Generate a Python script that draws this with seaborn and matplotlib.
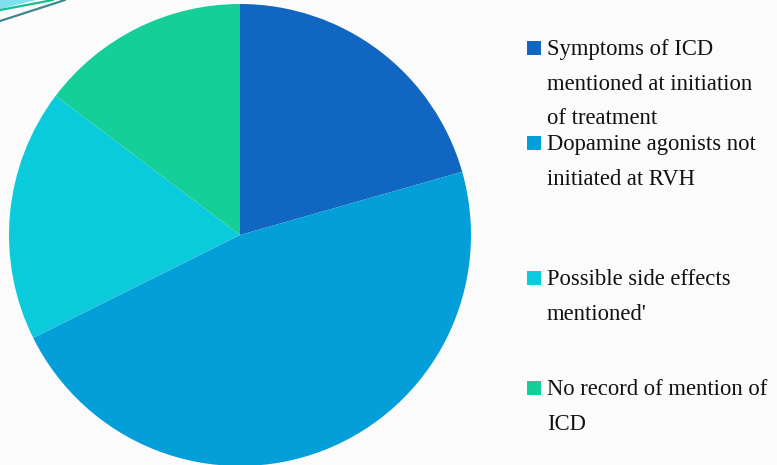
import matplotlib.pyplot as plt
import seaborn as sns
from matplotlib.patches import Rectangle, Polygon

sns.set_theme(style="white")
plt.rcParams['font.family'] = ['Liberation Serif', 'DejaVu Serif']

# Данные
labels = [
    "Symptoms of ICD\nmentioned at initiation\nof treatment",
    "Dopamine agonists not\ninitiated at RVH",
    "Possible side effects\nmentioned'",
    "No record of mention of\nICD",
]
counts = [14, 32, 12, 10]
colors = ["#1166c2", "#049fd8", "#0acbdb", "#14cf98"]
label_y = [48, 143, 278, 388]  # центры квадратов, px сверху

W, H = 777, 465
fig = plt.figure(figsize=(W / 100, H / 100), dpi=100)
fig.patch.set_facecolor("#fbfbfb")

# Декор в левом верхнем углу
fig.patches.append(Polygon([(0, 1), (0, 1 - 9 / H), (36 / W, 1)], closed=True,
                           transform=fig.transFigure, facecolor="#7fe0ee", edgecolor="none"))
fig.add_artist(plt.Line2D([0, 53 / W], [1 - 10 / H, 1], transform=fig.transFigure,
                          color="#14c090", lw=1.6, zorder=3))
fig.add_artist(plt.Line2D([0, 65 / W], [1 - 21 / H, 1], transform=fig.transFigure,
                          color="#3f8890", lw=1.6, zorder=3))

# Пирог
cx, cy, r = 240, 235, 231
ax = fig.add_axes([(cx - r) / W, (H - cy - r) / H, 2 * r / W, 2 * r / H])
ax.pie(counts, colors=colors, startangle=90, counterclock=False,
       wedgeprops=dict(linewidth=0))
ax.set_xlim(-1, 1)
ax.set_ylim(-1, 1)
ax.set_aspect("equal")
ax.axis("off")

# Легенда вручную
for lab, col, y in zip(labels, colors, label_y):
    fig.patches.append(Rectangle((527 / W, 1 - (y + 7) / H), 14 / W, 14 / H,
                                 transform=fig.transFigure, facecolor=col, edgecolor="none"))
    fig.text(547 / W, 1 - (y - 9) / H, lab, fontsize=16.3, va="top", ha="left",
             color="#111111", linespacing=1.85)

fig.savefig("out.png", dpi=100, facecolor=fig.get_facecolor())
